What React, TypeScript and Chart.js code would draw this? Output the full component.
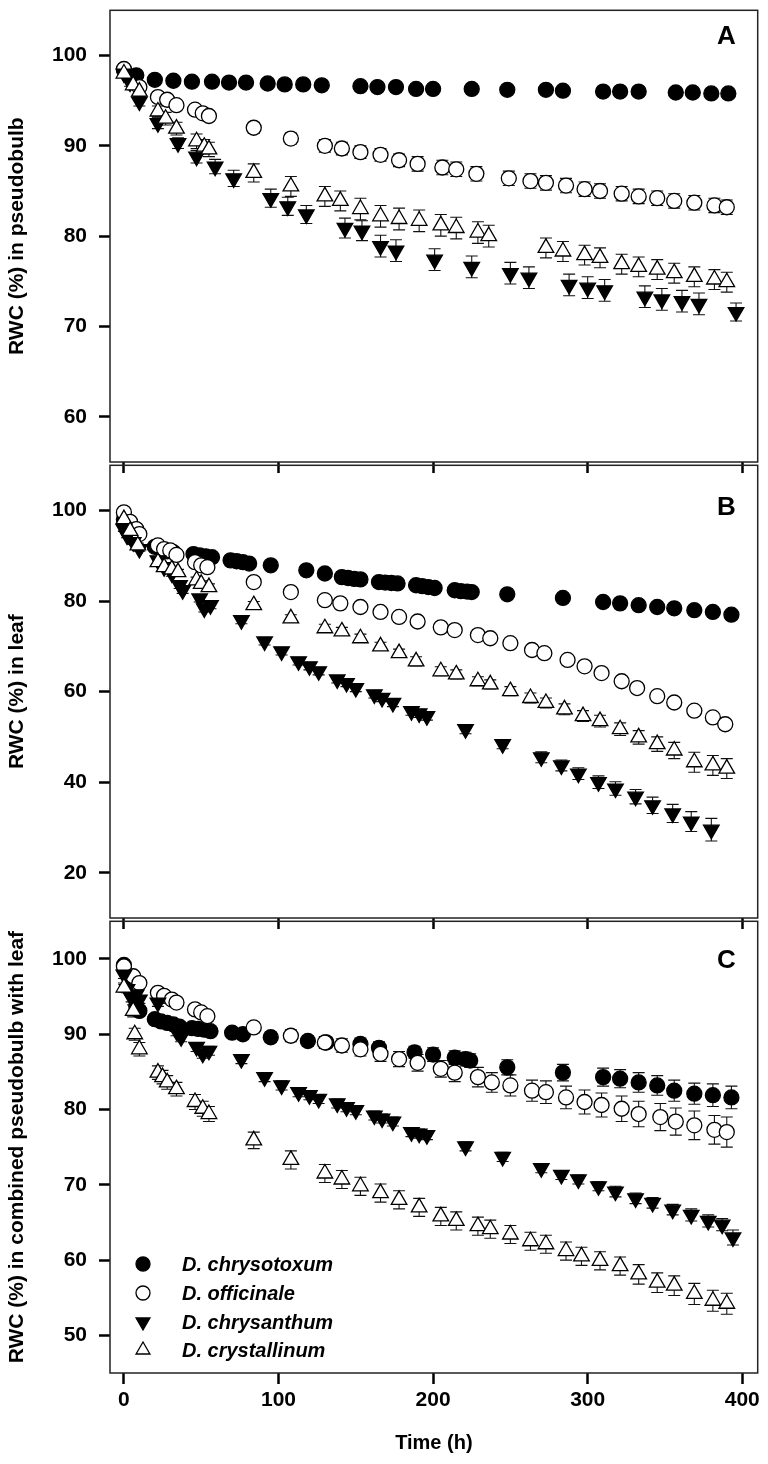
import React, { useEffect, useRef } from 'react';
import { Chart, registerables } from 'chart.js';

Chart.register(...registerables);

const FONT = "'Liberation Sans', Arial, Helvetica, sans-serif";

type Row = [number, number, number]; // [time (h), RWC (%), SE]

// ---------- axis ticks ----------
const X_TICKS = [0, 100, 200, 300, 400];
const A_Y_TICKS = [60, 70, 80, 90, 100];
const B_Y_TICKS = [20, 40, 60, 80, 100];
const C_Y_TICKS = [50, 60, 70, 80, 90, 100];

const SERIES_NAMES = ['D. chrysotoxum', 'D. officinale', 'D. chrysanthum', 'D. crystallinum'];

// ---------- Panel A: pseudobulb ----------
const A_CHRYSOTOXUM: Row[] = [
  [0, 98.4, 0.3], [8, 97.8, 0.3], [20, 97.3, 0.3], [32, 97.2, 0.3], [44, 97.1, 0.3], [57, 97.1, 0.3],
  [68, 97.0, 0.3], [79, 97.0, 0.3], [93, 96.9, 0.3], [104, 96.8, 0.3], [116, 96.8, 0.3], [128, 96.7, 0.3],
  [153, 96.6, 0.3], [164, 96.5, 0.3], [176, 96.5, 0.3], [189, 96.3, 0.3], [200, 96.3, 0.3], [225, 96.3, 0.3],
  [248, 96.2, 0.3], [273, 96.2, 0.3], [284, 96.1, 0.3], [310, 96.0, 0.3], [321, 96.0, 0.3], [333, 96.0, 0.3],
  [357, 95.9, 0.3], [368, 95.9, 0.3], [380, 95.8, 0.3], [391, 95.8, 0.3],
];
const A_OFFICINALE: Row[] = [
  [0, 98.5, 0.3], [10, 96.5, 0.4], [22, 95.4, 0.4], [28, 95.1, 0.4], [34, 94.5, 0.4], [46, 94.0, 0.5],
  [51, 93.6, 0.5], [55, 93.3, 0.5], [84, 92.0, 0.6], [108, 90.8, 0.6], [130, 90.0, 0.7], [141, 89.7, 0.7],
  [153, 89.3, 0.7], [166, 89.0, 0.7], [178, 88.4, 0.7], [190, 88.0, 0.8], [206, 87.6, 0.8], [215, 87.4, 0.8],
  [228, 86.9, 0.8], [249, 86.4, 0.8], [263, 86.1, 0.8], [273, 85.9, 0.8], [286, 85.6, 0.8], [298, 85.2, 0.8],
  [308, 85.0, 0.8], [322, 84.7, 0.8], [333, 84.4, 0.8], [345, 84.2, 0.8], [356, 83.9, 0.8], [369, 83.7, 0.8],
  [382, 83.4, 0.8], [390, 83.2, 0.8],
];
const A_CHRYSANTHUM: Row[] = [
  [0, 98.0, 0.3], [4, 97.0, 0.4], [10, 94.9, 0.5], [22, 92.5, 0.6], [35, 90.3, 0.6], [47, 88.8, 0.7],
  [59, 87.7, 0.8], [71, 86.4, 0.9], [95, 84.2, 1.0], [106, 83.3, 1.0], [118, 82.4, 1.0], [143, 80.9, 1.1],
  [154, 80.6, 1.1], [166, 78.9, 1.2], [176, 78.4, 1.2], [201, 77.4, 1.2], [225, 76.6, 1.2], [250, 75.9, 1.2],
  [262, 75.4, 1.2], [288, 74.6, 1.2], [300, 74.3, 1.2], [311, 74.0, 1.2], [337, 73.3, 1.2], [348, 73.0, 1.2],
  [361, 72.8, 1.2], [372, 72.5, 1.2], [396, 71.6, 1.0],
];
const A_CRYSTALLINUM: Row[] = [
  [0, 98.0, 0.4], [6, 96.7, 0.5], [10, 96.0, 0.5], [22, 93.8, 0.6], [27, 93.0, 0.7], [34, 91.9, 0.7],
  [47, 90.5, 0.8], [52, 89.9, 0.8], [55, 89.6, 0.8], [84, 87.0, 1.0], [108, 85.5, 1.1], [130, 84.4, 1.1],
  [140, 83.9, 1.1], [153, 83.0, 1.2], [166, 82.2, 1.2], [178, 81.9, 1.2], [191, 81.7, 1.2], [205, 81.2, 1.2],
  [215, 80.9, 1.2], [229, 80.4, 1.2], [236, 80.0, 1.2], [273, 78.7, 1.1], [284, 78.3, 1.1], [298, 77.9, 1.1],
  [308, 77.6, 1.1], [322, 76.9, 1.1], [333, 76.6, 1.1], [345, 76.3, 1.1], [356, 75.9, 1.1], [369, 75.5, 1.1],
  [382, 75.2, 1.1], [390, 74.9, 1.1],
];

// ---------- Panel B: leaf ----------
const B_CHRYSOTOXUM: Row[] = [
  [0, 98.0, 0.4], [4, 96.5, 0.4], [8, 95.0, 0.4], [20, 92.0, 0.4], [24, 91.5, 0.4], [28, 91.0, 0.4],
  [32, 90.8, 0.4], [45, 90.4, 0.4], [49, 90.1, 0.4], [53, 89.9, 0.4], [57, 89.7, 0.4], [69, 89.0, 0.4],
  [73, 88.8, 0.4], [77, 88.6, 0.4], [81, 88.3, 0.4], [95, 87.9, 0.5], [118, 86.8, 0.5], [130, 86.1, 0.5],
  [141, 85.3, 0.5], [145, 85.1, 0.5], [149, 84.9, 0.5], [153, 84.8, 0.5], [165, 84.2, 0.5], [169, 84.1, 0.5],
  [173, 84.0, 0.5], [177, 83.9, 0.5], [189, 83.5, 0.5], [193, 83.3, 0.5], [197, 83.1, 0.5], [201, 82.9, 0.5],
  [214, 82.4, 0.5], [218, 82.2, 0.5], [222, 82.1, 0.5], [225, 82.0, 0.5], [248, 81.5, 0.6], [284, 80.7, 0.6],
  [310, 79.8, 0.6], [321, 79.5, 0.6], [333, 79.1, 0.6], [345, 78.7, 0.6], [356, 78.4, 0.6], [369, 78.0, 0.6],
  [381, 77.6, 0.6], [393, 77.0, 0.7],
];
const B_OFFICINALE: Row[] = [
  [0, 99.6, 0.4], [4, 97.5, 0.4], [8, 95.9, 0.4], [10, 94.8, 0.4], [22, 92.3, 0.4], [26, 91.5, 0.4],
  [30, 91.2, 0.4], [34, 90.2, 0.4], [46, 88.6, 0.5], [50, 87.9, 0.5], [54, 87.5, 0.5], [84, 84.2, 0.5],
  [108, 82.0, 0.5], [130, 80.2, 0.5], [140, 79.5, 0.5], [153, 78.7, 0.5], [166, 77.6, 0.6], [178, 76.5, 0.6],
  [190, 75.5, 0.6], [205, 74.2, 0.6], [214, 73.6, 0.6], [229, 72.5, 0.6], [237, 71.8, 0.6], [250, 70.7, 0.7],
  [264, 69.2, 0.7], [272, 68.5, 0.7], [287, 67.0, 0.7], [298, 65.6, 0.8], [309, 64.1, 0.8], [322, 62.3, 0.8],
  [332, 60.8, 0.8], [345, 59.0, 0.9], [356, 57.6, 0.9], [369, 55.8, 0.9], [381, 54.3, 1.0], [389, 52.8, 1.0],
];
const B_CHRYSANTHUM: Row[] = [
  [0, 95.9, 0.5], [2, 94.5, 0.5], [6, 93.0, 0.5], [10, 91.5, 0.5], [22, 89.0, 0.6], [26, 87.5, 0.6],
  [31, 86.1, 0.6], [36, 83.5, 0.7], [38, 82.4, 0.7], [49, 80.6, 0.8], [52, 78.4, 0.8], [56, 79.1, 0.8],
  [76, 75.8, 0.8], [91, 71.1, 0.8], [102, 68.9, 0.8], [113, 66.7, 0.8], [120, 65.6, 0.8], [126, 64.5, 0.8],
  [138, 62.7, 0.8], [144, 61.9, 0.8], [150, 60.8, 0.8], [162, 59.4, 0.8], [167, 58.6, 0.8], [174, 57.5, 0.8],
  [186, 55.7, 0.9], [191, 55.2, 0.9], [196, 54.6, 0.9], [221, 51.7, 1.0], [245, 48.4, 1.0], [270, 45.5, 1.2],
  [283, 43.7, 1.2], [294, 41.9, 1.3], [307, 40.0, 1.4], [318, 38.6, 1.5], [331, 36.8, 1.6], [342, 34.9, 1.8],
  [355, 33.1, 2.0], [367, 31.3, 2.2], [380, 29.5, 2.5],
];
const B_CRYSTALLINUM: Row[] = [
  [0, 98.1, 0.4], [4, 95.5, 0.5], [9, 92.3, 0.5], [22, 88.6, 0.6], [26, 87.5, 0.6], [31, 87.0, 0.6],
  [35, 86.4, 0.6], [47, 84.6, 0.7], [50, 83.8, 0.7], [55, 83.1, 0.7], [84, 79.1, 0.8], [108, 76.2, 0.8],
  [130, 74.0, 0.9], [141, 73.3, 0.9], [153, 71.8, 0.9], [166, 70.0, 0.9], [178, 68.5, 0.9], [189, 66.7, 1.0],
  [205, 64.5, 1.0], [215, 63.8, 1.0], [229, 62.3, 1.0], [237, 61.6, 1.0], [250, 60.1, 1.0], [263, 58.6, 1.1],
  [273, 57.5, 1.1], [285, 56.1, 1.2], [297, 54.6, 1.2], [308, 53.5, 1.3], [321, 51.7, 1.4], [333, 49.9, 1.5],
  [345, 48.4, 1.6], [356, 47.0, 1.8], [369, 44.4, 2.2], [381, 43.7, 2.2], [390, 43.0, 2.2],
];

// ---------- Panel C: combined pseudobulb with leaf ----------
const C_CHRYSOTOXUM: Row[] = [
  [0, 99.2, 0.4], [4, 97.5, 0.5], [8, 93.7, 0.6], [10, 93.1, 0.6], [20, 92.0, 0.6], [24, 91.7, 0.6],
  [28, 91.5, 0.6], [32, 91.3, 0.6], [36, 91.0, 0.6], [44, 90.8, 0.6], [48, 90.7, 0.6], [52, 90.6, 0.6],
  [56, 90.4, 0.6], [70, 90.2, 0.6], [77, 90.0, 0.6], [95, 89.6, 0.7], [119, 89.1, 0.7], [131, 88.9, 0.7],
  [153, 88.7, 0.8], [165, 88.2, 0.8], [188, 87.6, 0.8], [200, 87.3, 0.9], [214, 86.9, 0.9], [221, 86.7, 0.9],
  [224, 86.5, 0.9], [248, 85.6, 1.0], [284, 84.9, 1.1], [310, 84.3, 1.2], [321, 84.1, 1.2], [333, 83.6, 1.3],
  [345, 83.2, 1.3], [356, 82.5, 1.4], [369, 82.1, 1.4], [381, 81.9, 1.5], [393, 81.6, 1.5],
];
const C_OFFICINALE: Row[] = [
  [0, 99.0, 0.4], [6, 97.7, 0.5], [10, 96.8, 0.5], [22, 95.5, 0.5], [26, 95.1, 0.5], [31, 94.6, 0.5],
  [34, 94.2, 0.5], [46, 93.3, 0.6], [50, 92.9, 0.6], [54, 92.4, 0.6], [84, 90.9, 0.7], [108, 89.8, 0.8],
  [130, 88.9, 0.8], [141, 88.5, 0.9], [153, 88.0, 0.9], [166, 87.4, 1.0], [178, 86.7, 1.0], [190, 86.2, 1.1],
  [205, 85.4, 1.1], [214, 84.9, 1.2], [229, 84.3, 1.3], [238, 83.6, 1.3], [250, 83.2, 1.4], [264, 82.5, 1.4],
  [273, 82.3, 1.5], [286, 81.6, 1.5], [298, 81.0, 1.6], [309, 80.6, 1.6], [322, 80.1, 1.7], [333, 79.4, 1.7],
  [347, 79.0, 1.8], [357, 78.4, 1.8], [369, 77.9, 1.9], [382, 77.3, 1.9], [390, 77.0, 2.0],
];
const C_CHRYSANTHUM: Row[] = [
  [0, 97.9, 0.5], [2, 96.0, 0.5], [5, 94.8, 0.5], [8, 95.3, 0.5], [10, 94.6, 0.5], [22, 94.2, 0.5],
  [34, 90.4, 0.6], [37, 89.6, 0.6], [47, 88.3, 0.6], [51, 87.4, 0.6], [55, 87.8, 0.6], [76, 86.7, 0.6],
  [91, 84.3, 0.6], [102, 83.2, 0.6], [113, 82.3, 0.6], [120, 81.9, 0.6], [126, 81.4, 0.6], [138, 80.8, 0.6],
  [144, 80.3, 0.6], [150, 79.9, 0.6], [162, 79.2, 0.6], [167, 78.8, 0.6], [174, 78.4, 0.6], [186, 77.0, 0.6],
  [191, 76.8, 0.6], [196, 76.6, 0.6], [221, 75.1, 0.6], [245, 73.7, 0.6], [270, 72.2, 0.6], [283, 71.3, 0.6],
  [294, 70.7, 0.6], [307, 69.8, 0.6], [318, 69.1, 0.7], [331, 68.2, 0.7], [342, 67.6, 0.7], [355, 66.7, 0.7],
  [367, 66.0, 0.8], [378, 65.2, 0.8], [387, 64.7, 0.8], [394, 63.0, 1.0],
];
const C_CRYSTALLINUM: Row[] = [
  [0, 96.2, 0.6], [6, 93.1, 0.8], [7, 90.0, 0.8], [10, 88.0, 0.9], [22, 84.9, 0.9], [25, 84.3, 0.9],
  [28, 83.6, 0.9], [34, 82.7, 0.9], [46, 81.0, 1.0], [51, 80.1, 1.0], [55, 79.4, 1.0], [84, 75.9, 1.1],
  [108, 73.3, 1.2], [130, 71.5, 1.2], [141, 70.7, 1.2], [153, 69.8, 1.2], [166, 68.9, 1.2], [178, 68.0, 1.2],
  [191, 67.0, 1.2], [205, 65.8, 1.2], [215, 65.2, 1.2], [229, 64.5, 1.2], [237, 64.1, 1.2], [250, 63.4, 1.2],
  [263, 62.5, 1.2], [273, 62.1, 1.2], [286, 61.2, 1.2], [296, 60.5, 1.2], [308, 59.9, 1.2], [321, 59.2, 1.2],
  [333, 58.1, 1.3], [345, 57.0, 1.3], [356, 56.6, 1.3], [369, 55.5, 1.4], [381, 54.6, 1.4], [390, 54.2, 1.4],
];

// ---------- styles ----------
type Shape = 'circle' | 'up' | 'down';
const SERIES_STYLE: { shape: Shape; fill: string; radius: number }[] = [
  { shape: 'circle', fill: '#000000', radius: 7.5 },
  { shape: 'circle', fill: '#ffffff', radius: 7.5 },
  { shape: 'down', fill: '#000000', radius: 9 },
  { shape: 'up', fill: '#ffffff', radius: 9 },
];

interface PanelDef {
  key: string;
  top: number;
  height: number;
  xHeight: number;
  yMin: number;
  yMax: number;
  yTicks: number[];
  yTitle: string;
  letter: string;
  letterDy: number;
  series: Row[][];
  showX: boolean;
  showLegend: boolean;
}

const PANELS: PanelDef[] = [
  {
    key: 'A', top: 0, height: 476, xHeight: 14, yMin: 55, yMax: 105, yTicks: A_Y_TICKS,
    yTitle: 'RWC (%) in pseudobulb', letter: 'A', letterDy: 27,
    series: [A_CHRYSOTOXUM, A_OFFICINALE, A_CHRYSANTHUM, A_CRYSTALLINUM], showX: false, showLegend: false,
  },
  {
    key: 'B', top: 455, height: 477, xHeight: 14, yMin: 10, yMax: 110, yTicks: B_Y_TICKS,
    yTitle: 'RWC (%) in leaf', letter: 'B', letterDy: 43,
    series: [B_CHRYSOTOXUM, B_OFFICINALE, B_CHRYSANTHUM, B_CRYSTALLINUM], showX: false, showLegend: false,
  },
  {
    key: 'C', top: 911, height: 553, xHeight: 91, yMin: 45, yMax: 105, yTicks: C_Y_TICKS,
    yTitle: 'RWC (%) in combined pseudobulb with leaf', letter: 'C', letterDy: 40,
    series: [C_CHRYSOTOXUM, C_OFFICINALE, C_CHRYSANTHUM, C_CRYSTALLINUM], showX: true, showLegend: true,
  },
];

function drawMarker(ctx: CanvasRenderingContext2D, shape: Shape, fill: string, r: number, x: number, y: number) {
  ctx.save();
  ctx.beginPath();
  if (shape === 'circle') {
    ctx.arc(x, y, r, 0, Math.PI * 2);
  } else {
    const dir = shape === 'up' ? 1 : -1;
    for (let k = 0; k < 3; k++) {
      const a = (k * 2 * Math.PI) / 3;
      const px = x + Math.sin(a) * r;
      const py = y - dir * Math.cos(a) * r;
      if (k === 0) ctx.moveTo(px, py);
      else ctx.lineTo(px, py);
    }
    ctx.closePath();
  }
  ctx.fillStyle = fill;
  ctx.fill();
  ctx.lineWidth = 1.3;
  ctx.strokeStyle = '#000';
  ctx.stroke();
  ctx.restore();
}

const errorBarPlugin = {
  id: 'errorBars',
  beforeDatasetsDraw(chart: any) {
    const ctx: CanvasRenderingContext2D = chart.ctx;
    const xs = chart.scales.x;
    const ys = chart.scales.y;
    const area = chart.chartArea;
    ctx.save();
    ctx.beginPath();
    ctx.rect(area.left, area.top, area.right - area.left, area.bottom - area.top);
    ctx.clip();
    ctx.strokeStyle = '#111';
    ctx.lineWidth = 1.1;
    chart.data.datasets.forEach((ds: any) => {
      ds.data.forEach((pt: any, j: number) => {
        const e = ds.errors[j];
        const px = xs.getPixelForValue(pt.x);
        const top = ys.getPixelForValue(pt.y + e);
        const bot = ys.getPixelForValue(pt.y - e);
        ctx.beginPath();
        ctx.moveTo(px, top);
        ctx.lineTo(px, bot);
        ctx.moveTo(px - 6, top);
        ctx.lineTo(px + 6, top);
        ctx.moveTo(px - 6, bot);
        ctx.lineTo(px + 6, bot);
        ctx.stroke();
      });
    });
    ctx.restore();
  },
};

const framePlugin = {
  id: 'panelFrame',
  afterDraw(chart: any, _args: any, opts: any) {
    const ctx: CanvasRenderingContext2D = chart.ctx;
    const a = chart.chartArea;
    ctx.save();
    ctx.strokeStyle = '#222';
    ctx.lineWidth = 1.5;
    ctx.strokeRect(a.left, a.top, a.right - a.left, a.bottom - a.top);
    // panel letter
    ctx.fillStyle = '#000';
    ctx.font = `bold 26px ${FONT}`;
    ctx.textAlign = 'right';
    ctx.textBaseline = 'middle';
    ctx.fillText(opts.letter, a.right - 22, a.top + opts.letterDy);
    // legend
    if (opts.showLegend) {
      const rows = [109, 80, 51, 23];
      ctx.font = `italic bold 20px ${FONT}`;
      ctx.textAlign = 'left';
      chart.data.datasets.forEach((ds: any, i: number) => {
        const st = SERIES_STYLE[i];
        const y = a.bottom - rows[i];
        drawMarker(ctx, st.shape, st.fill, st.shape === 'circle' ? 7 : 8, 143, y);
        ctx.fillStyle = '#000';
        ctx.fillText(ds.label, 182, y + 1);
      });
    }
    ctx.restore();
  },
};

function buildConfig(p: PanelDef): any {
  const datasets = p.series.map((s, i) => {
    const st = SERIES_STYLE[i];
    return {
      label: SERIES_NAMES[i],
      data: s.map((r) => ({ x: r[0], y: r[1] })),
      errors: s.map((r) => r[2]),
      showLine: false,
      pointStyle: st.shape === 'circle' ? 'circle' : 'triangle',
      pointRotation: st.shape === 'down' ? 180 : 0,
      pointRadius: st.radius,
      pointHoverRadius: st.radius,
      pointBackgroundColor: st.fill,
      pointBorderColor: '#000',
      pointBorderWidth: 1.3,
      order: 3 - i,
    };
  });
  return {
    type: 'scatter',
    data: { datasets },
    plugins: [errorBarPlugin, framePlugin],
    options: {
      animation: false,
      responsive: false,
      events: [],
      layout: { padding: { top: 7, left: 0, right: 9, bottom: 0 } },
      plugins: {
        legend: { display: false },
        tooltip: { enabled: false },
        panelFrame: { letter: p.letter, letterDy: p.letterDy, showLegend: p.showLegend },
      },
      scales: {
        x: {
          type: 'linear',
          min: -9,
          max: 410,
          afterBuildTicks: (s: any) => {
            s.ticks = X_TICKS.map((v) => ({ value: v }));
          },
          afterFit: (s: any) => {
            s.height = p.xHeight;
            s.paddingLeft = 0;
            s.paddingRight = 0;
            s.paddingTop = 0;
            s.paddingBottom = 0;
          },
          border: { display: false },
          grid: {
            display: true,
            drawOnChartArea: false,
            drawTicks: true,
            tickLength: 11,
            tickWidth: 2.5,
            tickColor: '#000',
          },
          ticks: {
            display: p.showX,
            color: '#000',
            padding: 4,
            maxRotation: 0,
            font: { family: FONT, size: 21, weight: 'bold' },
          },
          title: {
            display: p.showX,
            text: 'Time (h)',
            color: '#000',
            padding: { top: 0, bottom: 9 },
            font: { family: FONT, size: 20, weight: 'bold' },
          },
        },
        y: {
          type: 'linear',
          min: p.yMin,
          max: p.yMax,
          afterBuildTicks: (s: any) => {
            s.ticks = p.yTicks.map((v) => ({ value: v }));
          },
          afterFit: (s: any) => {
            s.width = 110;
            s.paddingLeft = 0;
            s.paddingRight = 0;
            s.paddingTop = 0;
            s.paddingBottom = 0;
          },
          border: { display: false },
          grid: {
            display: true,
            drawOnChartArea: false,
            drawTicks: true,
            tickLength: 11,
            tickWidth: 2.5,
            tickColor: '#000',
          },
          ticks: {
            color: '#000',
            padding: 12,
            font: { family: FONT, size: 21, weight: 'bold' },
          },
          title: {
            display: true,
            text: p.yTitle,
            color: '#000',
            padding: { top: 5, bottom: 0 },
            font: { family: FONT, size: 21, weight: 'bold' },
          },
        },
      },
    },
  };
}

function PanelChart({ def }: { def: PanelDef }) {
  const ref = useRef<HTMLCanvasElement>(null);
  useEffect(() => {
    if (!ref.current) return;
    const chart = new Chart(ref.current, buildConfig(def));
    return () => chart.destroy();
  }, [def]);
  return (
    <canvas
      ref={ref}
      width={768}
      height={def.height}
      style={{ position: 'absolute', left: 0, top: def.top, width: 768, height: def.height }}
    />
  );
}

export default function App() {
  return (
    <div style={{ position: 'absolute', left: 0, top: 0, width: 768, height: 1464, background: '#ffffff' }}>
      {PANELS.map((p) => (
        <PanelChart key={p.key} def={p} />
      ))}
    </div>
  );
}
